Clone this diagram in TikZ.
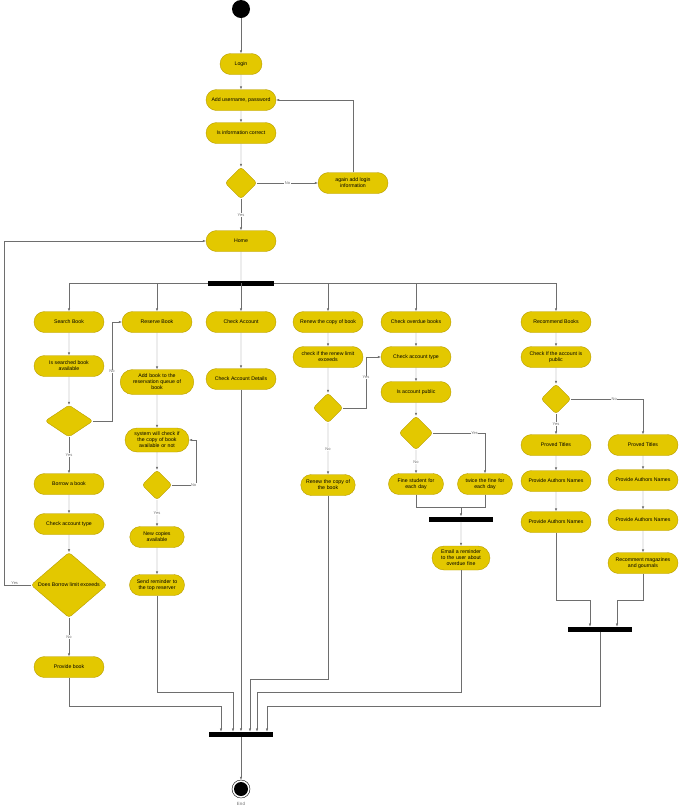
\documentclass[tikz,border=0pt]{standalone}
\usepackage{fontspec}
\setmainfont{Liberation Sans}
\usetikzlibrary{arrows.meta}
\usetikzlibrary{positioning}
\usetikzlibrary{shapes.geometric}
\usetikzlibrary{shapes.misc}
\definecolor{actfill}{HTML}{E3C800}
\definecolor{actdraw}{HTML}{B89D00}
\definecolor{linegray}{HTML}{6E6E6E}

\begin{document}
\begin{tikzpicture}[
				x=1pt, y=-1pt,
				font=\fontsize{5.2}{6}\selectfont,
				arrow/.style={draw=linegray, -{Latex[length=3pt,width=2.5pt]}},
				line/.style={draw=linegray},
				act/.style={rounded rectangle, fill=actfill, draw=actdraw, minimum width=72pt, minimum height=21pt, align=center, inner sep=1pt},
				actn/.style={act, minimum width=52pt, text width=50pt},
				choice/.style={diamond, fill=actfill, draw=actdraw, rounded corners=3pt, minimum width=32pt, minimum height=32pt, inner sep=0pt},
				bar/.style={fill=black, minimum width=64pt, minimum height=5pt, inner sep=0pt},
				lbl/.style={fill=white, inner sep=0.5pt, font=\fontsize{4}{5}\selectfont, text=linegray},
			]
				\useasboundingbox (0,0) rectangle (680,807);
				% top part
				\node[circle, fill=black, minimum size=18pt, inner sep=0pt] (start) at (241,9) {};
				\node[act, minimum width=44pt] (login) at (241,64) {Login};
				\node[act] (username) at (241,100) {Add username, password};
				\node[act] (correct) at (241,133) {Is information correct};
				\node[choice] (dcorrect) at (241,183) {};
				\node[act] (again) at (353,183) {again add login\\information};
				\node[act] (home) at (241,241) {Home};
				\node[bar, minimum width=66pt] (fork) at (241,283) {};

				\draw[arrow] (start) -- (login);
				\draw[arrow] (login) -- (username);
				\draw[arrow] (username) -- (correct);
				\draw[arrow] (correct) -- (dcorrect);
				\draw[arrow] (dcorrect) -- node[lbl]{No} (again);
				\draw[arrow] (again.north) |- (username.east);
				\draw[arrow] (dcorrect) -- node[lbl]{Yes} (home);
				\draw[line] (home) -- (fork);

				% search
				\node[act] (search) at (69,322) {Search Book};
				\node[act] (searched) at (69,366) {Is searched book\\available};
				\node[choice, minimum width=48pt] (dsearch) at (69,421) {};
				\node[act] (borrow) at (69,484) {Borrow a book};
				\node[act] (acctype) at (69,524) {Check account type};
				\node[choice, minimum width=76pt, minimum height=44pt] (dlimit) at (69,585) {Does Borrow limit exceeds};
				\node[act] (provide) at (69,667) {Provide book};
				\coordinate (yesleft) at (4,585);
				\coordinate (nobend) at (112,421);

				% reserve
				\node[act] (reserve) at (157,322) {Reserve Book};
				\node[actn, minimum width=70pt, text width=66pt, minimum height=25pt] (queue) at (157,382) {Add book to the\\reservation queue of\\book};
				\node[actn, minimum width=56pt, text width=56pt, minimum height=24pt] (syscheck) at (157,440) {system will check if\\the copy of book\\available or not};
				\node[choice, minimum width=30pt, minimum height=30pt] (dcopy) at (157,485) {};
				\node[actn, minimum width=54pt] (newcopies) at (157,537) {New copies\\available};
				\node[actn, minimum width=54pt] (sendrem) at (157,585) {Send reminder to\\the top reserver};
				\coordinate (nocopy) at (196,485);

				% account
				\node[act] (account) at (241,322) {Check Account};
				\node[act] (details) at (241,379) {Check Account Details};

				% renew
				\node[act] (renew) at (328,322) {Renew the copy of book};
				\node[act] (renewlimit) at (328,357) {check if the renew limit\\exceeds};
				\node[choice, minimum width=30pt, minimum height=30pt] (drenew) at (328,408) {};
				\node[actn] (renewbook) at (328,485) {Renew the copy of\\the book};
				\coordinate (yesrenew) at (366,408);

				% overdue
				\node[act] (overdue) at (416,322) {Check overdue books};
				\node[act] (odtype) at (416,357) {Check account type};
				\node[act] (public) at (416,392) {Is account public};
				\node[choice, minimum width=34pt, minimum height=34pt] (dpublic) at (416,433) {};
				\node[actn] (fine) at (416,484) {Fine student for\\each day};
				\node[actn] (twice) at (485,484) {twice the fine for\\each day};
				\node[bar] (finebar) at (461,519) {};
				\node[actn, minimum height=24pt] (email) at (461,558) {Email a reminder\\to the user about\\overdue fine};
				\coordinate (finejoin) at (461,507);

				% recommend
				\node[act] (recommend) at (556,322) {Recommend Books};
				\node[act] (recpublic) at (556,357) {Check If the account is\\public};
				\node[choice, minimum width=30pt, minimum height=30pt] (drec) at (556,399) {};
				\node[act] (titlesa) at (556,445) {Proved Titles};
				\node[act] (authorsa) at (556,481) {Provide Authors Names};
				\node[act] (authorsb) at (556,522) {Provide Authors Names};
				\node[act] (titlesb) at (643,445) {Proved Titles};
				\node[act] (authorsc) at (643,480) {Provide Authors Names};
				\node[act] (authorsd) at (643,520) {Provide Authors Names};
				\node[act] (magazines) at (643,563) {Recomment magazines\\and gournals};
				\node[bar] (recbar) at (600,629) {};

				% end
				\node[bar] (join) at (241,734) {};
				\node[circle, draw=black, fill=white, minimum size=18pt, inner sep=0pt] (finish) at (241,789) {};
				\node[circle, fill=black, minimum size=14pt, inner sep=0pt] at (finish) {};
				\node[font=\fontsize{4.5}{5}\selectfont, text=linegray, below=0pt of finish] (endlabel) {End};

				% fork outputs
				\foreach \target in {search, reserve, account, renew, overdue, recommend}
					\draw[arrow] (fork) -| (\target.north);

				% search column
				\draw[arrow] (search) -- (searched);
				\draw[arrow] (searched) -- (dsearch);
				\draw[arrow] (dsearch) -- node[lbl]{Yes} (borrow);
				\draw[arrow] (dsearch.east) -- (nobend) |- node[lbl, pos=0.25]{No} (reserve.west);
				\draw[arrow] (borrow) -- (acctype);
				\draw[arrow] (acctype) -- (dlimit);
				\draw[arrow] (dlimit.west) -- node[lbl, above, pos=0.6]{Yes} (yesleft) |- (home.west);
				\draw[arrow] (dlimit) -- node[lbl]{No} (provide);

				% reserve column
				\draw[arrow] (reserve) -- (queue);
				\draw[arrow] (queue) -- (syscheck);
				\draw[arrow] (syscheck) -- (dcopy);
				\draw[arrow] (dcopy.east) -- node[lbl, pos=0.9]{No} (nocopy) |- (syscheck.east);
				\draw[arrow] (dcopy) -- node[lbl]{Yes} (newcopies);
				\draw[arrow] (newcopies) -- (sendrem);

				% account column
				\draw[arrow] (account) -- (details);

				% renew column
				\draw[arrow] (renew) -- (renewlimit);
				\draw[arrow] (renewlimit) -- (drenew);
				\draw[arrow] (drenew.east) -- (yesrenew) |- node[lbl, pos=0.3]{Yes} (odtype.west);
				\draw[arrow] (drenew) -- node[lbl]{No} (renewbook);

				% overdue column
				\draw[arrow] (overdue) -- (odtype);
				\draw[arrow] (odtype) -- (public);
				\draw[arrow] (public) -- (dpublic);
				\draw[arrow] (dpublic) -- node[lbl]{No} (fine);
				\draw[arrow] (dpublic.east) -| node[lbl, pos=0.4]{Yes} (twice.north);
				\draw[line] (fine.south) |- (finejoin);
				\draw[line] (twice.south) |- (finejoin);
				\draw[arrow] (finejoin) -- (finebar.north);
				\draw[arrow] (finebar) -- (email);

				% recommend column
				\draw[arrow] (recommend) -- (recpublic);
				\draw[arrow] (recpublic) -- (drec);
				\draw[arrow] (drec) -- node[lbl]{Yes} (titlesa);
				\draw[arrow] (drec.east) -| node[lbl, pos=0.3]{No} (titlesb.north);
				\draw[arrow] (titlesa) -- (authorsa);
				\draw[arrow] (authorsa) -- (authorsb);
				\draw[arrow] (titlesb) -- (authorsc);
				\draw[arrow] (authorsc) -- (authorsd);
				\draw[arrow] (authorsd) -- (magazines);
				\draw[arrow] (authorsb.south) |- (590,600) -- (590,626.5);
				\draw[arrow] (magazines.south) |- (617,600) -- (617,626.5);

				% joins to end
				\draw[arrow] (provide.south) |- (221,706) -- (221,731.5);
				\draw[arrow] (sendrem.south) |- (233,692) -- (233,731.5);
				\draw[arrow] (details.south) -- (join.north);
				\draw[arrow] (renewbook.south) |- (250,679) -- (250,731.5);
				\draw[arrow] (email.south) |- (257,692) -- (257,731.5);
				\draw[arrow] (recbar.south) |- (267,706) -- (267,731.5);
				\draw[arrow] (join) -- (finish);
			\end{tikzpicture}
\end{document}
